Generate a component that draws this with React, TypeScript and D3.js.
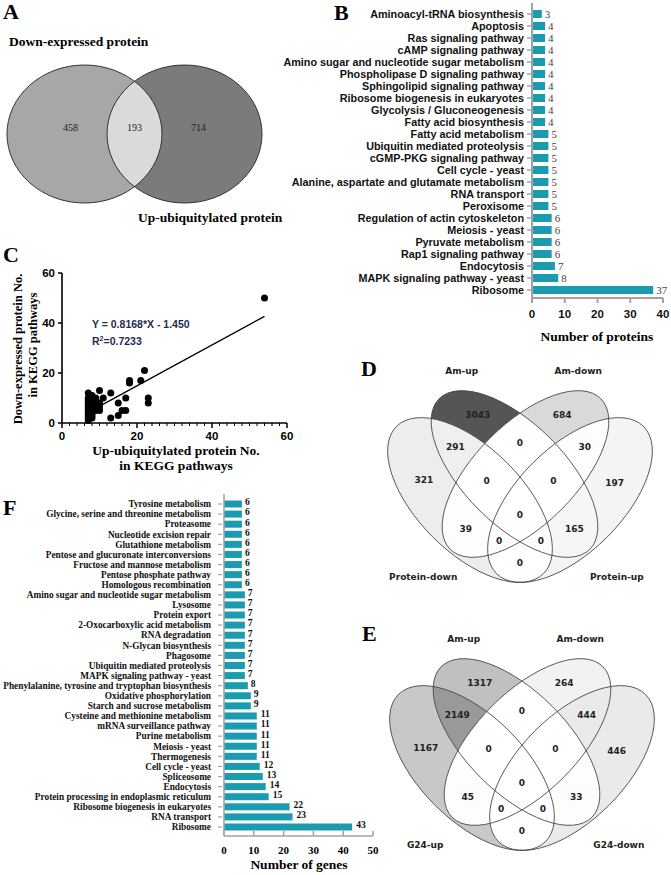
import React, { useMemo } from 'react';
import * as d3 from 'd3';

const W = 671;
const H = 875;
const serif = '"Liberation Serif", "Times New Roman", serif';
const sans = '"Liberation Sans", Arial, sans-serif';
const vennFont = '"DejaVu Sans", Verdana, sans-serif';
const teal = '#1b9bb0';
const axisGrey = '#a3a3a3';

// ---- A: two-set venn ----
const aSets = ['Down-expressed protein', 'Up-ubiquitylated protein'];
const aCounts = [458, 193, 714]; // left only, shared, right only

// ---- B: KEGG pathways, number of proteins ----
const bPathways = [
  'Aminoacyl-tRNA biosynthesis', 'Apoptosis', 'Ras signaling pathway', 'cAMP signaling pathway',
  'Amino sugar and nucleotide sugar metabolism', 'Phospholipase D signaling pathway',
  'Sphingolipid signaling pathway', 'Ribosome biogenesis in eukaryotes', 'Glycolysis / Gluconeogenesis',
  'Fatty acid biosynthesis', 'Fatty acid metabolism', 'Ubiquitin mediated proteolysis',
  'cGMP-PKG signaling pathway', 'Cell cycle - yeast', 'Alanine, aspartate and glutamate metabolism',
  'RNA transport', 'Peroxisome', 'Regulation of actin cytoskeleton', 'Meiosis - yeast',
  'Pyruvate metabolism', 'Rap1 signaling pathway', 'Endocytosis', 'MAPK signaling pathway - yeast', 'Ribosome',
];
const bCounts = [3, 4, 4, 4, 4, 4, 4, 4, 4, 4, 5, 5, 5, 5, 5, 5, 5, 6, 6, 6, 6, 7, 8, 37];
const bTicks = [0, 10, 20, 30, 40];

// ---- C: scatter ----
const cUp = [
  7, 7, 7, 7, 7, 7, 7, 7, 7, 7, 7,
  8, 8, 8, 8, 8, 8, 8, 8, 8, 8,
  9, 9, 9, 9, 9, 9,
  10, 10, 10, 10, 10,
  11, 13, 13, 15, 15, 16, 17, 17, 18, 18, 21, 22, 23, 23, 54,
];
const cDown = [
  1, 2, 3, 4, 5, 6, 7, 8, 9, 10, 12,
  2, 3, 4, 5, 6, 7, 8, 9, 10, 11,
  5, 6, 7, 8, 9, 10,
  5, 6, 7, 8, 13,
  10, 2, 12, 3, 8, 5, 5, 10, 16, 17, 17, 21, 8, 10, 50,
];
const fitSlope = 0.8168;
const fitIntercept = -1.45;
const fitR2 = 0.7233;
const cTicks = [0, 20, 40, 60];

// ---- D / E: four-set venns (bit 0 inner-left, 1 inner-right, 2 outer-left, 3 outer-right) ----
const vennMasks = [1, 2, 4, 8, 3, 5, 10, 6, 9, 12, 7, 11, 14, 13, 15];
const dSets = ['Am-up', 'Am-down', 'Protein-down', 'Protein-up'];
const dCounts = [3043, 684, 321, 197, 0, 291, 30, 39, 165, 0, 0, 0, 0, 0, 0];
const eSets = ['Am-up', 'Am-down', 'G24-up', 'G24-down'];
const eCounts = [1317, 264, 1167, 446, 0, 2149, 444, 45, 33, 0, 0, 0, 0, 0, 0];

// ---- F: KEGG pathways, number of genes ----
const fPathways = [
  'Tyrosine metabolism', 'Glycine, serine and threonine metabolism', 'Proteasome',
  'Nucleotide excision repair', 'Glutathione metabolism', 'Pentose and glucuronate interconversions',
  'Fructose and mannose metabolism', 'Pentose phosphate pathway', 'Homologous recombination',
  'Amino sugar and nucleotide sugar metabolism', 'Lysosome', 'Protein export',
  '2-Oxocarboxylic acid metabolism', 'RNA degradation', 'N-Glycan biosynthesis', 'Phagosome',
  'Ubiquitin mediated proteolysis', 'MAPK signaling pathway - yeast',
  'Phenylalanine, tyrosine and tryptophan biosynthesis', 'Oxidative phosphorylation',
  'Starch and sucrose metabolism', 'Cysteine and methionine metabolism', 'mRNA surveillance pathway',
  'Purine metabolism', 'Meiosis - yeast', 'Thermogenesis', 'Cell cycle - yeast', 'Spliceosome',
  'Endocytosis', 'Protein processing in endoplasmic reticulum', 'Ribosome biogenesis in eukaryotes',
  'RNA transport', 'Ribosome',
];
const fCounts = [6, 6, 6, 6, 6, 6, 6, 6, 6, 7, 7, 7, 7, 7, 7, 7, 7, 7, 8, 9, 9, 11, 11, 11, 11, 11, 12, 13, 14, 15, 22, 23, 43];
const fTicks = [0, 10, 20, 30, 40, 50];

type Ell = { x: number; y: number; a: number; b: number; rot: number };

// cx: symmetry axis, cy: centre height of the inner pair
function quadEllipses(cx: number, cy: number): Ell[] {
  return [
    { x: cx - 5.5, y: cy, a: 106.5, b: 50.5, rot: 45 },
    { x: cx + 5.5, y: cy, a: 106.5, b: 50.5, rot: 135 },
    { x: cx - 50, y: cy + 26, a: 104, b: 52.5, rot: 45 },
    { x: cx + 50, y: cy + 26, a: 104, b: 52.5, rot: 135 },
  ];
}

function inside(e: Ell, px: number, py: number) {
  const t = (e.rot * Math.PI) / 180;
  const dx = px - e.x;
  const dy = py - e.y;
  const u = dx * Math.cos(t) + dy * Math.sin(t);
  const v = -dx * Math.sin(t) + dy * Math.cos(t);
  return (u / e.a) ** 2 + (v / e.b) ** 2 <= 1;
}

// label point of every region: mean of its most interior point and its centroid
function regionLabels(ells: Ell[]) {
  const pad = d3.max(ells, (e) => e.a)! + 4;
  const x0 = Math.floor(d3.min(ells, (e) => e.x)! - pad);
  const x1 = Math.ceil(d3.max(ells, (e) => e.x)! + pad);
  const y0 = Math.floor(d3.min(ells, (e) => e.y)! - pad);
  const y1 = Math.ceil(d3.max(ells, (e) => e.y)! + pad);
  const w = x1 - x0 + 1;
  const h = y1 - y0 + 1;
  const id = new Uint8Array(w * h);
  const sx = new Float64Array(16);
  const sy = new Float64Array(16);
  const sn = new Float64Array(16);
  for (let j = 0; j < h; j++) {
    for (let i = 0; i < w; i++) {
      let m = 0;
      ells.forEach((e, k) => {
        if (inside(e, x0 + i, y0 + j)) m |= 1 << k;
      });
      id[j * w + i] = m;
      sx[m] += x0 + i;
      sy[m] += y0 + j;
      sn[m] += 1;
    }
  }
  const d = new Float32Array(w * h);
  const out: Record<number, [number, number]> = {};
  for (let mask = 1; mask < 16; mask++) {
    for (let k = 0; k < w * h; k++) d[k] = id[k] === mask ? 1e9 : 0;
    for (let j = 1; j < h; j++) {
      for (let i = 1; i < w - 1; i++) {
        const k = j * w + i;
        if (d[k] === 0) continue;
        d[k] = Math.min(d[k], d[k - 1] + 1, d[k - w] + 1, d[k - w - 1] + 1.414, d[k - w + 1] + 1.414);
      }
    }
    let best = -1;
    let bi = 0;
    for (let j = h - 2; j >= 0; j--) {
      for (let i = w - 2; i >= 1; i--) {
        const k = j * w + i;
        if (d[k] === 0) continue;
        d[k] = Math.min(d[k], d[k + 1] + 1, d[k + w] + 1, d[k + w + 1] + 1.414, d[k + w - 1] + 1.414);
        if (d[k] > best) {
          best = d[k];
          bi = k;
        }
      }
    }
    const px = x0 + (bi % w);
    const py = y0 + Math.floor(bi / w);
    const n = sn[mask] || 1;
    out[mask] = [(px + sx[mask] / n) / 2, (py + sy[mask] / n) / 2];
  }
  return out;
}

const ellAttrs = (e: Ell) => ({
  rx: e.a,
  ry: e.b,
  transform: `translate(${e.x},${e.y}) rotate(${e.rot})`,
});

function Venn4({ id, ells, sets, counts, dark, letter }: { id: string; ells: Ell[]; sets: string[]; counts: number[]; dark: string; letter: [string, number, number] }) {
  const shade = d3.scaleLinear<string>().domain([0, d3.max(counts)!]).range(['#ffffff', dark]);
  const spots = useMemo(() => regionLabels(ells), [ells]);
  // set label anchors: inner ones above the ellipse top, outer ones below-outside
  const setPos = ells.map((e, k) => {
    const hh = Math.sqrt((e.a * e.a + e.b * e.b) / 2);
    const side = k % 2 === 0 ? -1 : 1;
    if (k < 2) {
      const topX = ((e.a * e.a - e.b * e.b) / (2 * hh)) * side;
      return [e.x + topX, e.y - hh - 20];
    }
    return [e.x + side * 0.45 * e.a, e.y + 0.74 * e.a];
  });
  return (
    <g>
      <defs>
        {ells.map((e, k) => (
          <clipPath key={k} id={`${id}-c${k}`}>
            <ellipse {...ellAttrs(e)} />
          </clipPath>
        ))}
        {vennMasks.map((m) => (
          <mask key={m} id={`${id}-m${m}`} maskUnits="userSpaceOnUse" x={0} y={0} width={W} height={H}>
            <rect x={0} y={0} width={W} height={H} fill="white" />
            {ells.map((e, k) => (m & (1 << k) ? null : <ellipse key={k} fill="black" {...ellAttrs(e)} />))}
          </mask>
        ))}
      </defs>
      {vennMasks.map((m, i) => {
        let node = <rect x={0} y={0} width={W} height={H} fill={shade(counts[i])} mask={`url(#${id}-m${m})`} />;
        ells.forEach((e, k) => {
          if (m & (1 << k)) node = <g clipPath={`url(#${id}-c${k})`}>{node}</g>;
        });
        return <g key={m}>{node}</g>;
      })}
      {ells.map((e, k) => (
        <ellipse key={k} fill="none" stroke="#3c3c3c" strokeWidth={0.8} {...ellAttrs(e)} />
      ))}
      {vennMasks.map((m, i) => (
        <text key={m} x={spots[m][0]} y={spots[m][1]} dy="0.35em" textAnchor="middle"
          fontFamily={vennFont} fontWeight="bold" fontSize={9} fill="#222">
          {counts[i]}
        </text>
      ))}
      {sets.map((s, k) => (
        <text key={s} x={setPos[k][0]} y={setPos[k][1]} dy="0.35em" textAnchor="middle"
          fontFamily={vennFont} fontWeight="bold" fontSize={9} fill="#222">
          {s}
        </text>
      ))}
      <text x={letter[1]} y={letter[2]} fontFamily={serif} fontWeight="bold" fontSize={22}>{letter[0]}</text>
    </g>
  );
}

export default function App() {
  // panel A geometry
  const aL = { x: 84.5, y: 134, rx: 77.5, ry: 69 };
  const aR = { x: 184.5, y: 134, rx: 77.5, ry: 69 };

  // panel B
  const bY = d3.scalePoint<string>().domain(bPathways).range([14, 290]);
  const bX = d3.scaleLinear().domain([0, 40]).range([532, 663]);
  const bAxisY = 298;

  // panel C
  const cX = d3.scaleLinear().domain([0, 60]).range([62, 287]);
  const cY = d3.scaleLinear().domain([0, 60]).range([423, 273]);
  const minorX = d3.range(0, 61, 2).filter((v) => v % 20 !== 0);
  const fitX = d3.extent(cUp) as [number, number];
  const fitLine = d3.line<number>().x((v) => cX(v)).y((v) => cY(fitSlope * v + fitIntercept));

  // panels D / E
  const dElls = useMemo(() => quadEllipses(520, 474), []);
  const eElls = useMemo(() => quadEllipses(522, 742), []);

  // panel F
  const fY = d3.scalePoint<string>().domain(fPathways).range([504, 827]);
  const fX = d3.scaleLinear().domain([0, 50]).range([224, 373]);
  const fAxisY = 836;

  return (
    <svg width={W} height={H} style={{ position: 'absolute', left: 0, top: 0, background: '#fff' }}>
      {/* ---------- A ---------- */}
      <defs>
        <clipPath id="aLeft">
          <ellipse cx={aL.x} cy={aL.y} rx={aL.rx} ry={aL.ry} />
        </clipPath>
      </defs>
      <text x={3} y={19} fontFamily={serif} fontWeight="bold" fontSize={22}>A</text>
      <ellipse cx={aL.x} cy={aL.y} rx={aL.rx} ry={aL.ry} fill="#a7a7a7" />
      <ellipse cx={aR.x} cy={aR.y} rx={aR.rx} ry={aR.ry} fill="#7b7b7b" />
      <ellipse cx={aR.x} cy={aR.y} rx={aR.rx} ry={aR.ry} fill="#dadada" clipPath="url(#aLeft)" />
      <ellipse cx={aL.x} cy={aL.y} rx={aL.rx} ry={aL.ry} fill="none" stroke="#333" strokeWidth={1} />
      <ellipse cx={aR.x} cy={aR.y} rx={aR.rx} ry={aR.ry} fill="none" stroke="#333" strokeWidth={1} />
      {[aL.x - 0.18 * aL.rx, (aR.x - aR.rx + aL.x + aL.rx) / 2, aR.x + 0.18 * aR.rx].map((x, i) => (
        <text key={i} x={x} y={aL.y - 7} dy="0.35em" textAnchor="middle" fontFamily={serif} fontSize={10} fill="#222">
          {aCounts[i]}
        </text>
      ))}
      <text x={9} y={46} fontFamily={serif} fontWeight="bold" fontSize={13.5}>{aSets[0]}</text>
      <text x={138} y={222} fontFamily={serif} fontWeight="bold" fontSize={13.5}>{aSets[1]}</text>

      {/* ---------- B ---------- */}
      <text x={334} y={20} fontFamily={serif} fontWeight="bold" fontSize={22}>B</text>
      {bPathways.map((p, i) => (
        <g key={p}>
          <line x1={bX(0) - 5} x2={bX(0)} y1={bY(p)!} y2={bY(p)!} stroke={axisGrey} strokeWidth={1.5} />
          <text x={bX(0) - 8} y={bY(p)!} dy="0.35em" textAnchor="end" fontFamily={sans} fontWeight="bold" fontSize={10.8} fill="#111">
            {p}
          </text>
          <rect x={bX(0)} y={bY(p)! - 4} width={bX(bCounts[i]) - bX(0)} height={8} fill={teal} />
          <text x={bX(bCounts[i]) + 3} y={bY(p)!} dy="0.35em" fontFamily={serif} fontSize={11} fill="#444">
            {bCounts[i]}
          </text>
        </g>
      ))}
      <line x1={bX(0)} x2={bX(0)} y1={3} y2={bAxisY} stroke={axisGrey} strokeWidth={2} />
      <line x1={bX(0)} x2={bX(40)} y1={bAxisY} y2={bAxisY} stroke={axisGrey} strokeWidth={2} />
      {bTicks.map((t) => (
        <g key={t}>
          <line x1={bX(t)} x2={bX(t)} y1={bAxisY} y2={bAxisY + 5} stroke={axisGrey} strokeWidth={2} />
          <text x={bX(t)} y={bAxisY + 16} dy="0.35em" textAnchor="middle" fontFamily={sans} fontWeight="bold" fontSize={11.5} fill="#111">
            {t}
          </text>
        </g>
      ))}
      <text x={597} y={341} textAnchor="middle" fontFamily={serif} fontWeight="bold" fontSize={13.5}>Number of proteins</text>

      {/* ---------- C ---------- */}
      <text x={3} y={262} fontFamily={serif} fontWeight="bold" fontSize={22}>C</text>
      <line x1={cX(0)} x2={cX(0)} y1={cY(60)} y2={cY(0)} stroke="#000" strokeWidth={1.6} />
      <line x1={cX(0)} x2={cX(60)} y1={cY(0)} y2={cY(0)} stroke="#000" strokeWidth={1.6} />
      {cTicks.map((t) => (
        <g key={t}>
          <line x1={cX(0) - 4} x2={cX(0)} y1={cY(t)} y2={cY(t)} stroke="#000" strokeWidth={1.5} />
          <text x={cX(0) - 7} y={cY(t)} dy="0.35em" textAnchor="end" fontFamily={sans} fontWeight="bold" fontSize={11.5}>{t}</text>
          <line x1={cX(t)} x2={cX(t)} y1={cY(0)} y2={cY(0) + 5} stroke="#000" strokeWidth={1.5} />
          <text x={cX(t)} y={cY(0) + 13} dy="0.35em" textAnchor="middle" fontFamily={sans} fontWeight="bold" fontSize={11.5}>{t}</text>
        </g>
      ))}
      {minorX.map((t) => (
        <line key={t} x1={cX(t)} x2={cX(t)} y1={cY(0)} y2={cY(0) + 3} stroke="#000" strokeWidth={1} />
      ))}
      {cUp.map((x, i) => (
        <circle key={i} cx={cX(x)} cy={cY(cDown[i])} r={3.5} fill="#000" />
      ))}
      <path d={fitLine(fitX)!} stroke="#000" strokeWidth={1.4} fill="none" />
      <text x={92} y={328} fontFamily={sans} fontWeight="bold" fontSize={10.5} fill="#1f2d4d">
        {`Y = ${fitSlope}*X - ${Math.abs(fitIntercept).toFixed(3)}`}
      </text>
      <text x={92} y={345} fontFamily={sans} fontWeight="bold" fontSize={10.5} fill="#1f2d4d">
        R<tspan dy={-4} fontSize={7}>2</tspan><tspan dy={4}>{`=${fitR2}`}</tspan>
      </text>
      <text transform="translate(22,349) rotate(-90)" textAnchor="middle" fontFamily={serif} fontWeight="bold" fontSize={12.5}>
        Down-expressed protein No.
      </text>
      <text transform="translate(37,345) rotate(-90)" textAnchor="middle" fontFamily={serif} fontWeight="bold" fontSize={12.5}>
        in KEGG pathways
      </text>
      <text x={176} y={455} textAnchor="middle" fontFamily={serif} fontWeight="bold" fontSize={13.5}>Up-ubiquitylated protein No.</text>
      <text x={176} y={470} textAnchor="middle" fontFamily={serif} fontWeight="bold" fontSize={13.5}>in KEGG pathways</text>

      {/* ---------- D / E ---------- */}
      <Venn4 id="vd" ells={dElls} sets={dSets} counts={dCounts} dark="#555555" letter={['D', 361, 376]} />
      <Venn4 id="ve" ells={eElls} sets={eSets} counts={eCounts} dark="#999999" letter={['E', 362, 641]} />

      {/* ---------- F ---------- */}
      <text x={3} y={515} fontFamily={serif} fontWeight="bold" fontSize={22}>F</text>
      {fPathways.map((p, i) => (
        <g key={p}>
          <line x1={fX(0) - 6} x2={fX(0) - 2} y1={fY(p)!} y2={fY(p)!} stroke={axisGrey} strokeWidth={1.2} />
          <text x={fX(0) - 13} y={fY(p)!} dy="0.35em" textAnchor="end" fontFamily={serif} fontWeight="bold" fontSize={9.3} fill="#111">
            {p}
          </text>
          <rect x={fX(0)} y={fY(p)! - 3.5} width={fX(fCounts[i]) - fX(0)} height={7} fill={teal} />
          <text x={fX(fCounts[i]) + (fCounts[i] > 9 ? 4 : 3)} y={fY(p)! - 2} dy="0.35em" fontFamily={serif} fontWeight="bold" fontSize={9.6} fill="#111">
            {fCounts[i]}
          </text>
        </g>
      ))}
      <line x1={fX(0)} x2={fX(0)} y1={494} y2={fAxisY} stroke={axisGrey} strokeWidth={1.6} />
      <line x1={fX(0)} x2={fX(50)} y1={fAxisY} y2={fAxisY} stroke={axisGrey} strokeWidth={1.6} />
      {fTicks.map((t) => (
        <g key={t}>
          <line x1={fX(t)} x2={fX(t)} y1={fAxisY} y2={fAxisY - 5} stroke={axisGrey} strokeWidth={1.6} />
          <text x={fX(t)} y={fAxisY + 14} dy="0.35em" textAnchor="middle" fontFamily={serif} fontWeight="bold" fontSize={11}>{t}</text>
        </g>
      ))}
      <text x={299} y={869} textAnchor="middle" fontFamily={serif} fontWeight="bold" fontSize={13.5}>Number of genes</text>
    </svg>
  );
}
